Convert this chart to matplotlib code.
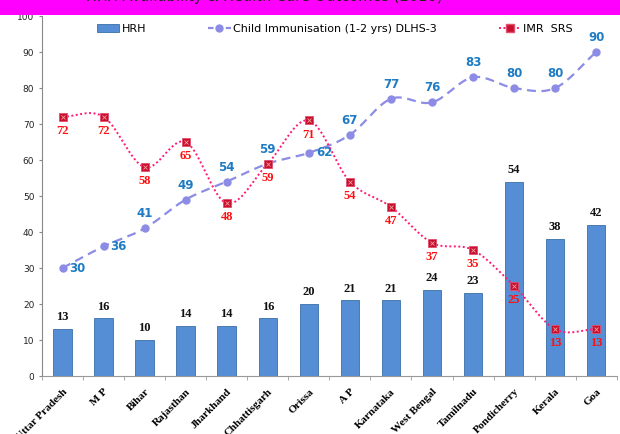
import numpy as np
import matplotlib.pyplot as plt
from matplotlib.patches import Rectangle

states = ["Uttar Pradesh", "M P", "Bihar", "Rajasthan", "Jharkhand", "Chhattisgarh",
          "Orissa", "A P", "Karnataka", "West Bengal", "Tamilnadu", "Pondicherry",
          "Kerala", "Goa"]
hrh = [13, 16, 10, 14, 14, 16, 20, 21, 21, 24, 23, 54, 38, 42]
immunisation = [30, 36, 41, 49, 54, 59, 62, 67, 77, 76, 83, 80, 80, 90]
imr = [72, 72, 58, 65, 48, 59, 71, 54, 47, 37, 35, 25, 13, 13]
title = "HRH Availability & Health Care Outcomes (2010)"


def smooth(x, y, n=20):
    # catmull-rom style smoothing like excel's smoothed lines
    x = np.asarray(x, float)
    y = np.asarray(y, float)
    px = np.concatenate([[2 * x[0] - x[1]], x, [2 * x[-1] - x[-2]]])
    py = np.concatenate([[2 * y[0] - y[1]], y, [2 * y[-1] - y[-2]]])
    xs, ys = [], []
    t = np.linspace(0, 1, n)
    for i in range(1, len(px) - 2):
        for p, out in ((px, xs), (py, ys)):
            p0, p1, p2, p3 = p[i - 1], p[i], p[i + 1], p[i + 2]
            out.extend(0.5 * ((2 * p1) + (-p0 + p2) * t
                              + (2 * p0 - 5 * p1 + 4 * p2 - p3) * t ** 2
                              + (-p0 + 3 * p1 - 3 * p2 + p3) * t ** 3))
    return np.array(xs), np.array(ys)


fig = plt.figure(figsize=(6.2, 4.34), dpi=100)
ax = fig.add_axes([0.0677, 0.1336, 0.927, 0.8295])

# magenta title band (title text runs off the top)
fig.patches.append(Rectangle((0, 1 - 15 / 434), 1, 15 / 434, transform=fig.transFigure,
                             facecolor="#FF00FF", edgecolor="none", zorder=0))
fig.text(0.427, 1 - 0.5 / 434, title, ha="center", va="baseline", fontsize=10.5,
         color="#222222", family="DejaVu Sans")

x = np.arange(len(states))
bars = ax.bar(x, hrh, width=0.45, color="#558ED5", edgecolor="#3B6FA8", linewidth=0.6,
              label="HRH", zorder=2)
for xi, v in zip(x, hrh):
    ax.text(xi, v + 1.6, str(v), ha="center", va="bottom", fontsize=9,
            fontweight="bold", family="Liberation Serif", color="#111111")

sx, sy = smooth(x, immunisation)
ax.plot(sx, sy, color="#8C8CE6", linestyle=(0, (4, 2.5)), linewidth=1.6, zorder=3)
ax.plot(x, immunisation, linestyle="none", marker="o", markersize=5,
        color="#8C8CE6", zorder=4)
imm_h, = ax.plot([], [], color="#8C8CE6", linestyle=(0, (2.5, 1.5)), linewidth=1.6,
                 marker="o", markersize=5, label="Child Immunisation (1-2 yrs) DLHS-3")
for i, (xi, v) in enumerate(zip(x, immunisation)):
    if i in (0, 1, 6):
        ax.text(xi + 0.17, v, str(v), ha="left", va="center", fontsize=8.5,
                fontweight="bold", color="#1F7CC4")
    else:
        ax.text(xi, v + 2.2, str(v), ha="center", va="bottom", fontsize=8.5,
                fontweight="bold", color="#1F7CC4")

sx, sy = smooth(x, imr)
ax.plot(sx, sy, color="#FF1A75", linestyle=(0, (1, 1.3)), linewidth=1.4, zorder=3)
ax.plot(x, imr, linestyle="none", marker="s", markersize=6, markerfacecolor="#C8102E",
        markeredgecolor="#E05070", markeredgewidth=0.6, zorder=4)
ax.plot(x, imr, linestyle="none", marker="x", markersize=3.5, color="#F0A0A0",
        markeredgewidth=0.6, zorder=5)
imr_h, = ax.plot([], [], color="#FF1A75", linestyle=(0, (1, 1.3)), linewidth=1.4,
                 marker="s", markersize=6, markerfacecolor="#C8102E",
                 markeredgecolor="#E05070", label="IMR  SRS")
for xi, v in zip(x, imr):
    ax.text(xi, v - 2.3, str(v), ha="center", va="top", fontsize=9,
            fontweight="bold", family="Liberation Serif", color="#FF1010")

ax.set_xlim(-0.5, len(states) - 0.5)
ax.set_ylim(0, 100)
ax.set_yticks(range(0, 101, 10))
ax.tick_params(axis="y", labelsize=6.5, length=2, color="#888888", labelcolor="#222222")
ax.set_xticks(x)
ax.set_xticklabels(states, rotation=45, ha="right", rotation_mode="anchor",
                   fontsize=8, fontweight="bold", family="Liberation Serif")
ax.set_xticks(np.arange(-0.5, len(states), 1), minor=True)
ax.tick_params(axis="x", which="major", length=0, pad=8)
ax.tick_params(axis="x", which="minor", length=3, color="#999999")
for s in ("top", "right"):
    ax.spines[s].set_visible(False)
ax.spines["left"].set_color("#888888")
ax.spines["bottom"].set_color("#999999")

ax.legend(handles=[bars, imm_h, imr_h], loc="upper left", bbox_to_anchor=(0.096, 0.978),
          ncol=3, frameon=False, fontsize=8, columnspacing=5.6, handlelength=2.0,
          handletextpad=0.2, borderpad=0, borderaxespad=0)

fig.savefig("out.png", dpi=100)
